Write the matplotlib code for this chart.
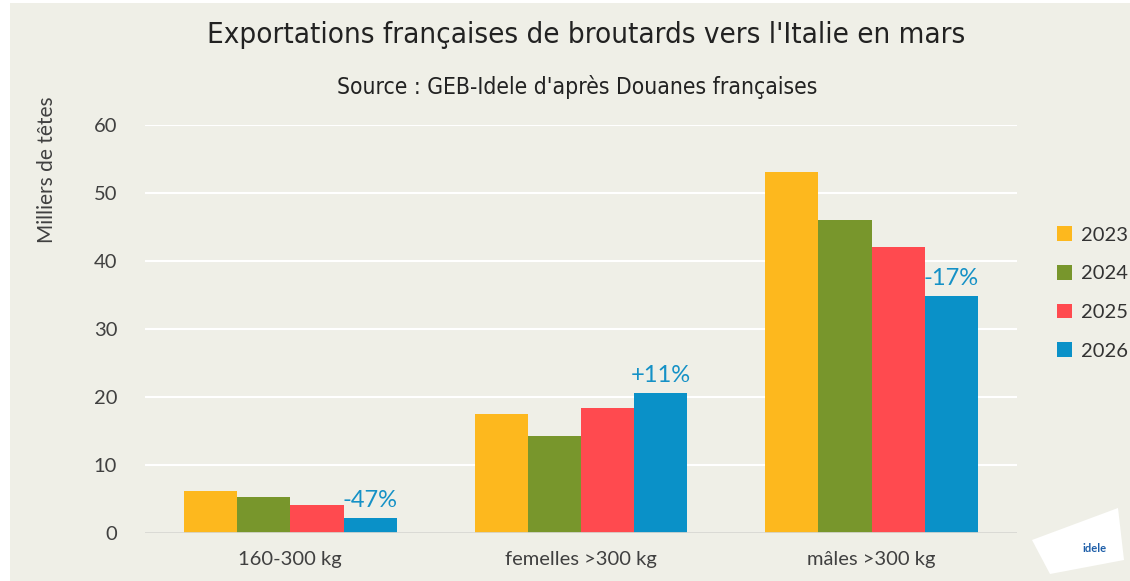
import matplotlib.pyplot as plt
import numpy as np
from matplotlib.patches import Polygon, Rectangle

plt.rcParams['font.family'] = ['Lato', 'DejaVu Sans']

categories = ["160-300 kg", "femelles >300 kg", "mâles >300 kg"]
years = ["2023", "2024", "2025", "2026"]
values = {
    "2023": [6.2, 17.5, 53.1],
    "2024": [5.3, 14.3, 46.0],
    "2025": [4.1, 18.4, 42.1],
    "2026": [2.2, 20.6, 34.9],
}
evolutions = ["-47%", "+11%", "-17%"]
colors = ["#FDB81E", "#78962C", "#FF4A4F", "#0A91C8"]

bg = "#EFEFE7"
fig = plt.figure(figsize=(11.3, 5.81), dpi=100)
fig.patch.set_facecolor("white")
fig.patches.append(Rectangle((10 / 1130, 0), 1 - 10 / 1130, 1 - 3 / 581,
                             transform=fig.transFigure, facecolor=bg,
                             edgecolor="none", zorder=-10))

ax = fig.add_axes([145 / 1130, 48 / 581, 872 / 1130, 408 / 581])
ax.patch.set_alpha(0)

x = np.arange(len(categories))
width = 0.183
for i, (yr, col) in enumerate(zip(years, colors)):
    ax.bar(x + (i - 1.5) * width, values[yr], width, color=col, label=yr, zorder=3)

# evolution 2026 vs 2025 above the last bar
for j, txt in enumerate(evolutions):
    ax.text(x[j] + 1.5 * width, values["2026"][j] + 1.0, txt, ha="center", va="bottom",
            color="#1591C6", fontsize=17, zorder=4)

ax.set_xlim(-0.5, 2.5)
ax.set_ylim(0, 60)
ax.set_yticks(range(0, 61, 10))
ax.set_xticks(x)
ax.set_xticklabels(categories)
ax.tick_params(axis="both", length=0, labelsize=14.5, colors="#404040")
ax.tick_params(axis="x", pad=13)
ax.tick_params(axis="y", pad=20)
ax.grid(axis="y", color="white", linewidth=1.5, zorder=0)
for s in ax.spines.values():
    s.set_visible(False)
ax.axhline(0, color="#D6D6D0", linewidth=2, zorder=4)

fig.text(586 / 1130, 1 - 35 / 581, "Exportations françaises de broutards vers l'Italie en mars",
         ha="center", va="center", fontsize=21.2, color="#222222",
         family="DejaVu Sans", fontstretch="condensed")
fig.text(577 / 1130, 1 - 87 / 581, "Source : GEB-Idele d'après Douanes françaises",
         ha="center", va="center", fontsize=16.4, color="#222222",
         family="DejaVu Sans", fontstretch="condensed")
fig.text(47 / 1130, 1 - 170 / 581, "Milliers de têtes", rotation=90,
         ha="center", va="center", fontsize=15, color="#404040")

leg = fig.legend(loc="center left", bbox_to_anchor=(1057 / 1130, 1 - 293 / 581),
                 frameon=False, fontsize=14.5, handlelength=0.75, handleheight=0.75,
                 labelspacing=1.05, handletextpad=0.45, borderpad=0, borderaxespad=0,
                 labelcolor="#333333")

# logo approximation
logo = Polygon([[1032 / 1130, 1 - 540 / 581], [1118 / 1130, 1 - 508 / 581],
                [1124 / 1130, 1 - 560 / 581], [1050 / 1130, 1 - 574 / 581]],
               closed=True, transform=fig.transFigure, facecolor="white",
               edgecolor="none", joinstyle="round")
fig.patches.append(logo)
fig.text(1095 / 1130, 1 - 548 / 581, "idele", ha="center", va="center",
         fontsize=8, color="#1C5DA8", fontweight="bold")

fig.savefig("out.png", dpi=100, facecolor=fig.get_facecolor())
